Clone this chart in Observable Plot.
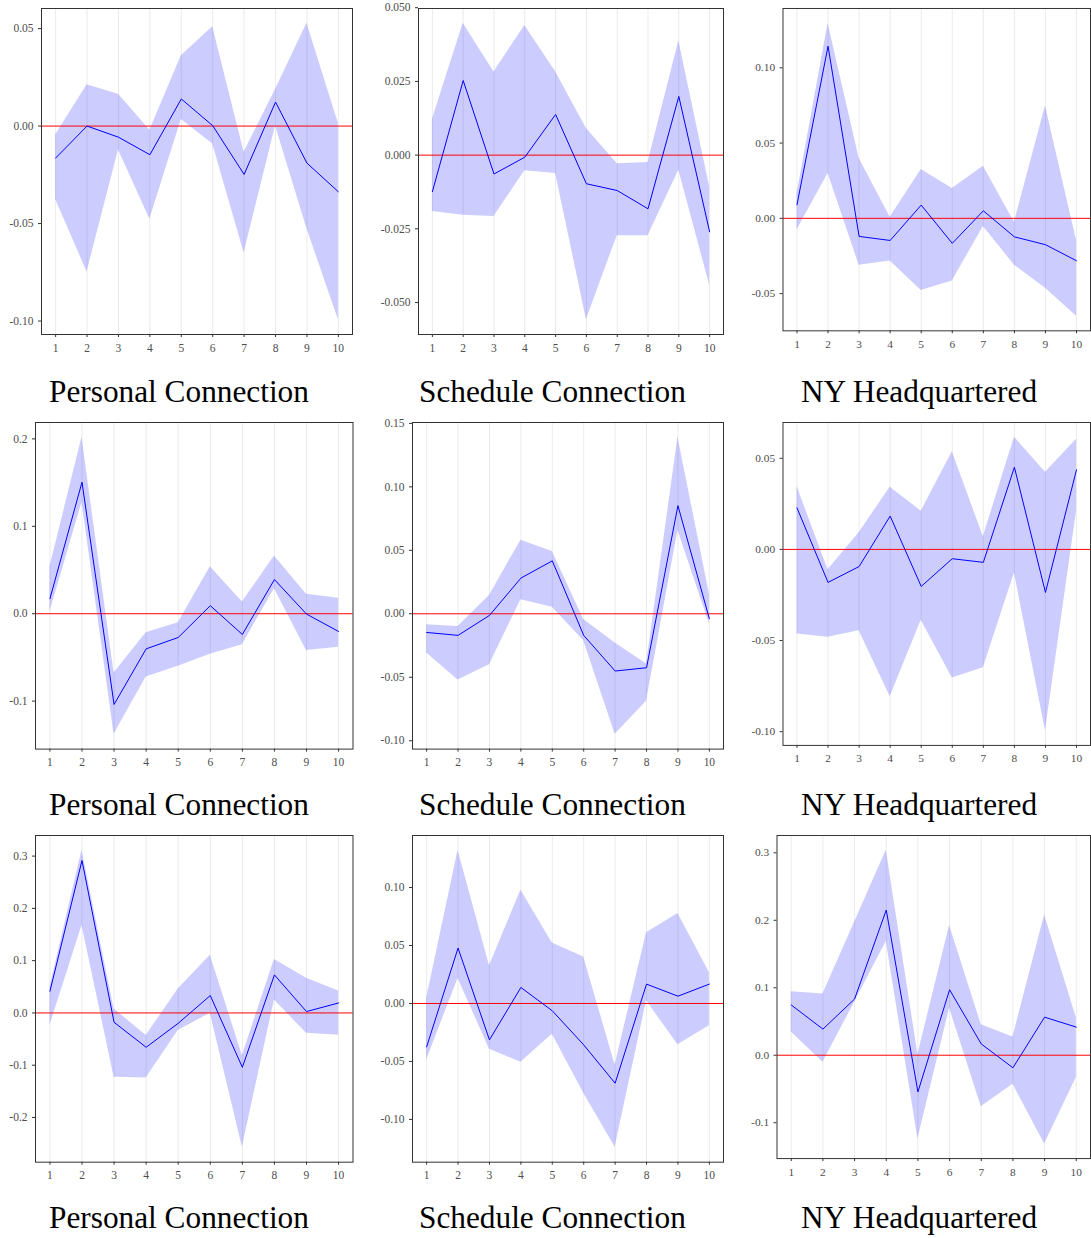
<!DOCTYPE html>
<html><head><meta charset="utf-8">
<script src="https://cdn.jsdelivr.net/npm/d3@7"></script>
<script src="https://cdn.jsdelivr.net/npm/@observablehq/plot@0.6"></script>
<style>
html,body{margin:0;padding:0;background:#fff;}
#root{position:relative;width:1091px;height:1238px;overflow:hidden;background:#fff;}
.panel{position:absolute;}
.title{position:absolute;font-family:"Liberation Serif",serif;font-size:31.3px;line-height:31px;color:#000;white-space:nowrap;}
</style></head><body><div id="root"></div>
<script>
// ---- data ----
const steps = [1, 2, 3, 4, 5, 6, 7, 8, 9, 10];
const panelTitles = ["Personal Connection", "Schedule Connection", "NY Headquartered"];

const personal1Est = [-0.0164, 0.0000, -0.0057, -0.0147, 0.0139, 0.0002, -0.0248, 0.0123, -0.0190, -0.0337];
const personal1Hi  = [-0.0046, 0.0212, 0.0163, -0.0021, 0.0361, 0.0510, -0.0134, 0.0188, 0.0527, 0.0014];
const personal1Lo  = [-0.0377, -0.0748, -0.0123, -0.0478, 0.0034, -0.0092, -0.0651, 0.0000, -0.0526, -0.0993];

const schedule1Est = [-0.0124, 0.0253, -0.0064, -0.0007, 0.0138, -0.0097, -0.0120, -0.0182, 0.0199, -0.0260];
const schedule1Hi  = [0.0121, 0.0447, 0.0282, 0.0440, 0.0283, 0.0090, -0.0029, -0.0025, 0.0388, -0.0107];
const schedule1Lo  = [-0.0191, -0.0204, -0.0208, -0.0053, -0.0062, -0.0558, -0.0273, -0.0273, -0.0051, -0.0441];

const ny1Est = [0.0090, 0.1144, -0.0120, -0.0147, 0.0088, -0.0166, 0.0050, -0.0123, -0.0175, -0.0282];
const ny1Hi  = [0.0160, 0.1297, 0.0400, 0.0007, 0.0324, 0.0199, 0.0346, -0.0026, 0.0746, -0.0147];
const ny1Lo  = [-0.0077, 0.0298, -0.0311, -0.0284, -0.0479, -0.0416, -0.0055, -0.0311, -0.0464, -0.0650];

const personal2Est = [0.0172, 0.1505, -0.1038, -0.0402, -0.0272, 0.0092, -0.0237, 0.0391, -0.0004, -0.0203];
const personal2Hi  = [0.0536, 0.2018, -0.0678, -0.0218, -0.0103, 0.0536, 0.0134, 0.0659, 0.0222, 0.0176];
const personal2Lo  = [0.0019, 0.1275, -0.1379, -0.0724, -0.0601, -0.0463, -0.0356, 0.0287, -0.0421, -0.0383];

const schedule2Est = [-0.0147, -0.0170, -0.0013, 0.0281, 0.0417, -0.0170, -0.0451, -0.0425, 0.0852, -0.0039];
const schedule2Hi  = [-0.0087, -0.0100, 0.0144, 0.0579, 0.0490, -0.0045, -0.0231, -0.0396, 0.1390, 0.0157];
const schedule2Lo  = [-0.0309, -0.0522, -0.0401, 0.0110, 0.0052, -0.0212, -0.0949, -0.0690, 0.0656, -0.0079];

const ny2Est = [0.0228, -0.0181, -0.0094, 0.0183, -0.0203, -0.0051, -0.0071, 0.0451, -0.0236, 0.0437];
const ny2Hi  = [0.0346, -0.0112, 0.0092, 0.0341, 0.0210, 0.0536, 0.0069, 0.0616, 0.0424, 0.0605];
const ny2Lo  = [-0.0464, -0.0482, -0.0446, -0.0808, -0.0388, -0.0705, -0.0650, -0.0130, -0.0995, 0.0210];

const personal3Est = [0.0415, 0.2916, -0.0179, -0.0657, -0.0198, 0.0332, -0.1040, 0.0727, 0.0026, 0.0191];
const personal3Hi  = [0.0491, 0.3110, 0.0077, -0.0434, 0.0459, 0.1104, -0.0817, 0.1021, 0.0664, 0.0421];
const personal3Lo  = [-0.0242, 0.1672, -0.1231, -0.1244, -0.0338, -0.0006, -0.2571, 0.0249, -0.0389, -0.0427];

const schedule3Est = [-0.0374, 0.0478, -0.0314, 0.0138, -0.0063, -0.0357, -0.0688, 0.0167, 0.0063, 0.0167];
const schedule3Hi  = [0.0046, 0.1321, 0.0325, 0.0976, 0.0521, 0.0400, -0.0530, 0.0610, 0.0777, 0.0268];
const schedule3Lo  = [-0.0487, 0.0216, -0.0394, -0.0507, -0.0265, -0.0774, -0.1241, 0.0023, -0.0357, -0.0193];

const ny3Est = [0.0745, 0.0387, 0.0833, 0.2152, -0.0544, 0.0971, 0.0167, -0.0186, 0.0564, 0.0417];
const ny3Hi  = [0.0941, 0.0907, 0.1971, 0.3039, 0.0010, 0.1922, 0.0451, 0.0270, 0.2078, 0.0559];
const ny3Lo  = [0.0343, -0.0103, 0.0784, 0.1686, -0.1240, 0.0696, -0.0765, -0.0431, -0.1314, -0.0333];

const ticks2dA = [-0.10, -0.05, 0.00, 0.05];
const ticks3d  = [-0.050, -0.025, 0.000, 0.025, 0.050];
const ticks2dB = [-0.05, 0.00, 0.05, 0.10];
const ticks1dA = [-0.1, 0.0, 0.1, 0.2];
const ticks2dC = [-0.10, -0.05, 0.00, 0.05, 0.10, 0.15];
const ticks2dD = [-0.10, -0.05, 0.00, 0.05];
const ticks1dB = [-0.2, -0.1, 0.0, 0.1, 0.2, 0.3];
const ticks2dE = [-0.10, -0.05, 0.00, 0.05, 0.10];
const ticks1dC = [-0.1, 0.0, 0.1, 0.2, 0.3];

// ---- layout ----
const panels = [
  {est: personal1Est, hi: personal1Hi, lo: personal1Lo, ticks: ticks2dA, dec: 2, title: 0, L: 41,  R: 352,  T: 8.3,  B: 334.3},
  {est: schedule1Est, hi: schedule1Hi, lo: schedule1Lo, ticks: ticks3d,  dec: 3, title: 1, L: 418, R: 723,  T: 8.3,  B: 334.3},
  {est: ny1Est,       hi: ny1Hi,       lo: ny1Lo,       ticks: ticks2dB, dec: 2, title: 2, L: 783, R: 1094, T: 8.3,  B: 334.3},
  {est: personal2Est, hi: personal2Hi, lo: personal2Lo, ticks: ticks1dA, dec: 1, title: 0, L: 34.5,R: 352,  T: 421.7,B: 748.3},
  {est: schedule2Est, hi: schedule2Hi, lo: schedule2Lo, ticks: ticks2dC, dec: 2, title: 1, L: 412, R: 723,  T: 421.7,B: 748.3},
  {est: ny2Est,       hi: ny2Hi,       lo: ny2Lo,       ticks: ticks2dD, dec: 2, title: 2, L: 783, R: 1094, T: 421.7,B: 748.3},
  {est: personal3Est, hi: personal3Hi, lo: personal3Lo, ticks: ticks1dB, dec: 1, title: 0, L: 34.5,R: 352,  T: 835,  B: 1161.7},
  {est: schedule3Est, hi: schedule3Hi, lo: schedule3Lo, ticks: ticks2dE, dec: 2, title: 1, L: 412, R: 723,  T: 835,  B: 1161.7},
  {est: ny3Est,       hi: ny3Hi,       lo: ny3Lo,       ticks: ticks1dC, dec: 1, title: 2, L: 777, R: 1094, T: 835,  B: 1161.7}
];
const titleX = [49, 419, 801];
const titleTop = [375.7, 789.1, 1202.4];

const root = document.getElementById("root");
const mL = 45, mR = 1, mT = 1, mB = 26;
const fmt = (d) => (v) => (v < -1e-9 ? "-" : "") + Math.abs(v).toFixed(d);

panels.forEach((p, i) => {
  const data = steps.map((s, j) => ({step: s, est: p.est[j], lo: p.lo[j], hi: p.hi[j]}));
  const all = [...p.lo, ...p.hi, ...p.est, 0];
  const mn = d3.min(all), mx = d3.max(all), pad = 0.05 * (mx - mn);
  const chart = Plot.plot({
    width: (p.R - p.L) + mL + mR,
    height: (p.B - p.T) + mT + mB,
    marginLeft: mL, marginRight: mR, marginTop: mT, marginBottom: mB,
    style: {fontFamily: "'Liberation Serif', serif", fontSize: "11.5px", background: "transparent", overflow: "visible"},
    x: {domain: [0.55, 10.45], label: null},
    y: {domain: [mn - pad, mx + pad], label: null},
    marks: [
      Plot.gridX(steps, {stroke: "#ebebeb", strokeOpacity: 1, strokeWidth: 1}),
      Plot.areaY(data, {x: "step", y1: "lo", y2: "hi", fill: "blue", fillOpacity: 0.2}),
      Plot.ruleY([0], {stroke: "red", strokeWidth: 1}),
      Plot.lineY(data, {x: "step", y: "est", stroke: "blue", strokeWidth: 1}),
      Plot.frame({stroke: "#333333", strokeWidth: 1}),
      Plot.axisX({ticks: steps, tickFormat: (d) => String(d), label: null, tickSize: 3, tickPadding: 6, stroke: "#333333", fill: "#4d4d4d"}),
      Plot.axisY({ticks: p.ticks, tickFormat: fmt(p.dec), label: null, tickSize: 3, tickPadding: 5, stroke: "#333333", fill: "#4d4d4d"})
    ]
  });
  const wrap = document.createElement("div");
  wrap.className = "panel";
  wrap.style.left = (p.L - mL) + "px";
  wrap.style.top = (p.T - mT) + "px";
  wrap.appendChild(chart);
  root.appendChild(wrap);

  const t = document.createElement("div");
  t.className = "title";
  t.textContent = panelTitles[p.title];
  t.style.left = titleX[i % 3] + "px";
  t.style.top = titleTop[Math.floor(i / 3)] + "px";
  root.appendChild(t);
});
</script>
</body></html>
